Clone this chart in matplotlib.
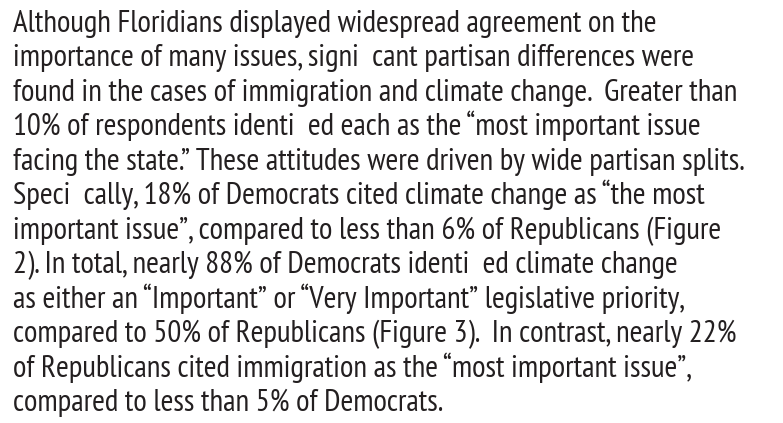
import matplotlib
matplotlib.use("Agg")
import matplotlib.pyplot as plt

lines = [
    "Although Floridians displayed widespread agreement on the",
    "importance of many issues, signi  cant partisan differences were",
    "found in the cases of immigration and climate change.  Greater than",
    "10% of respondents identi  ed each as the \u201cmost important issue",
    "facing the state.\u201d These attitudes were driven by wide partisan splits.",
    "Speci  cally, 18% of Democrats cited climate change as \u201cthe most",
    "important issue\u201d, compared to less than 6% of Republicans (Figure",
    "2). In total, nearly 88% of Democrats identi  ed climate change",
    "as either an \u201cImportant\u201d or \u201cVery Important\u201d legislative priority,",
    "compared to 50% of Republicans (Figure 3).  In contrast, nearly 22%",
    "of Republicans cited immigration as the \u201cmost important issue\u201d,",
    "compared to less than 5% of Democrats.",
]

W, H = 783, 423
fig = plt.figure(figsize=(W / 100, H / 100), dpi=100)
fig.patch.set_facecolor("white")

# text block: left edge and baselines in pixels from top-left
x0 = 13
y_first = 31.7
step = 34.5
for i, line in enumerate(lines):
    fig.text(x0 / W, 1 - (y_first + i * step) / H, line,
             fontsize=22.3, family=["PT Sans Narrow", "Barlow Condensed", "DejaVu Sans"],
             color="#231f20", va="baseline", ha="left")

fig.savefig("out.png", dpi=100)
